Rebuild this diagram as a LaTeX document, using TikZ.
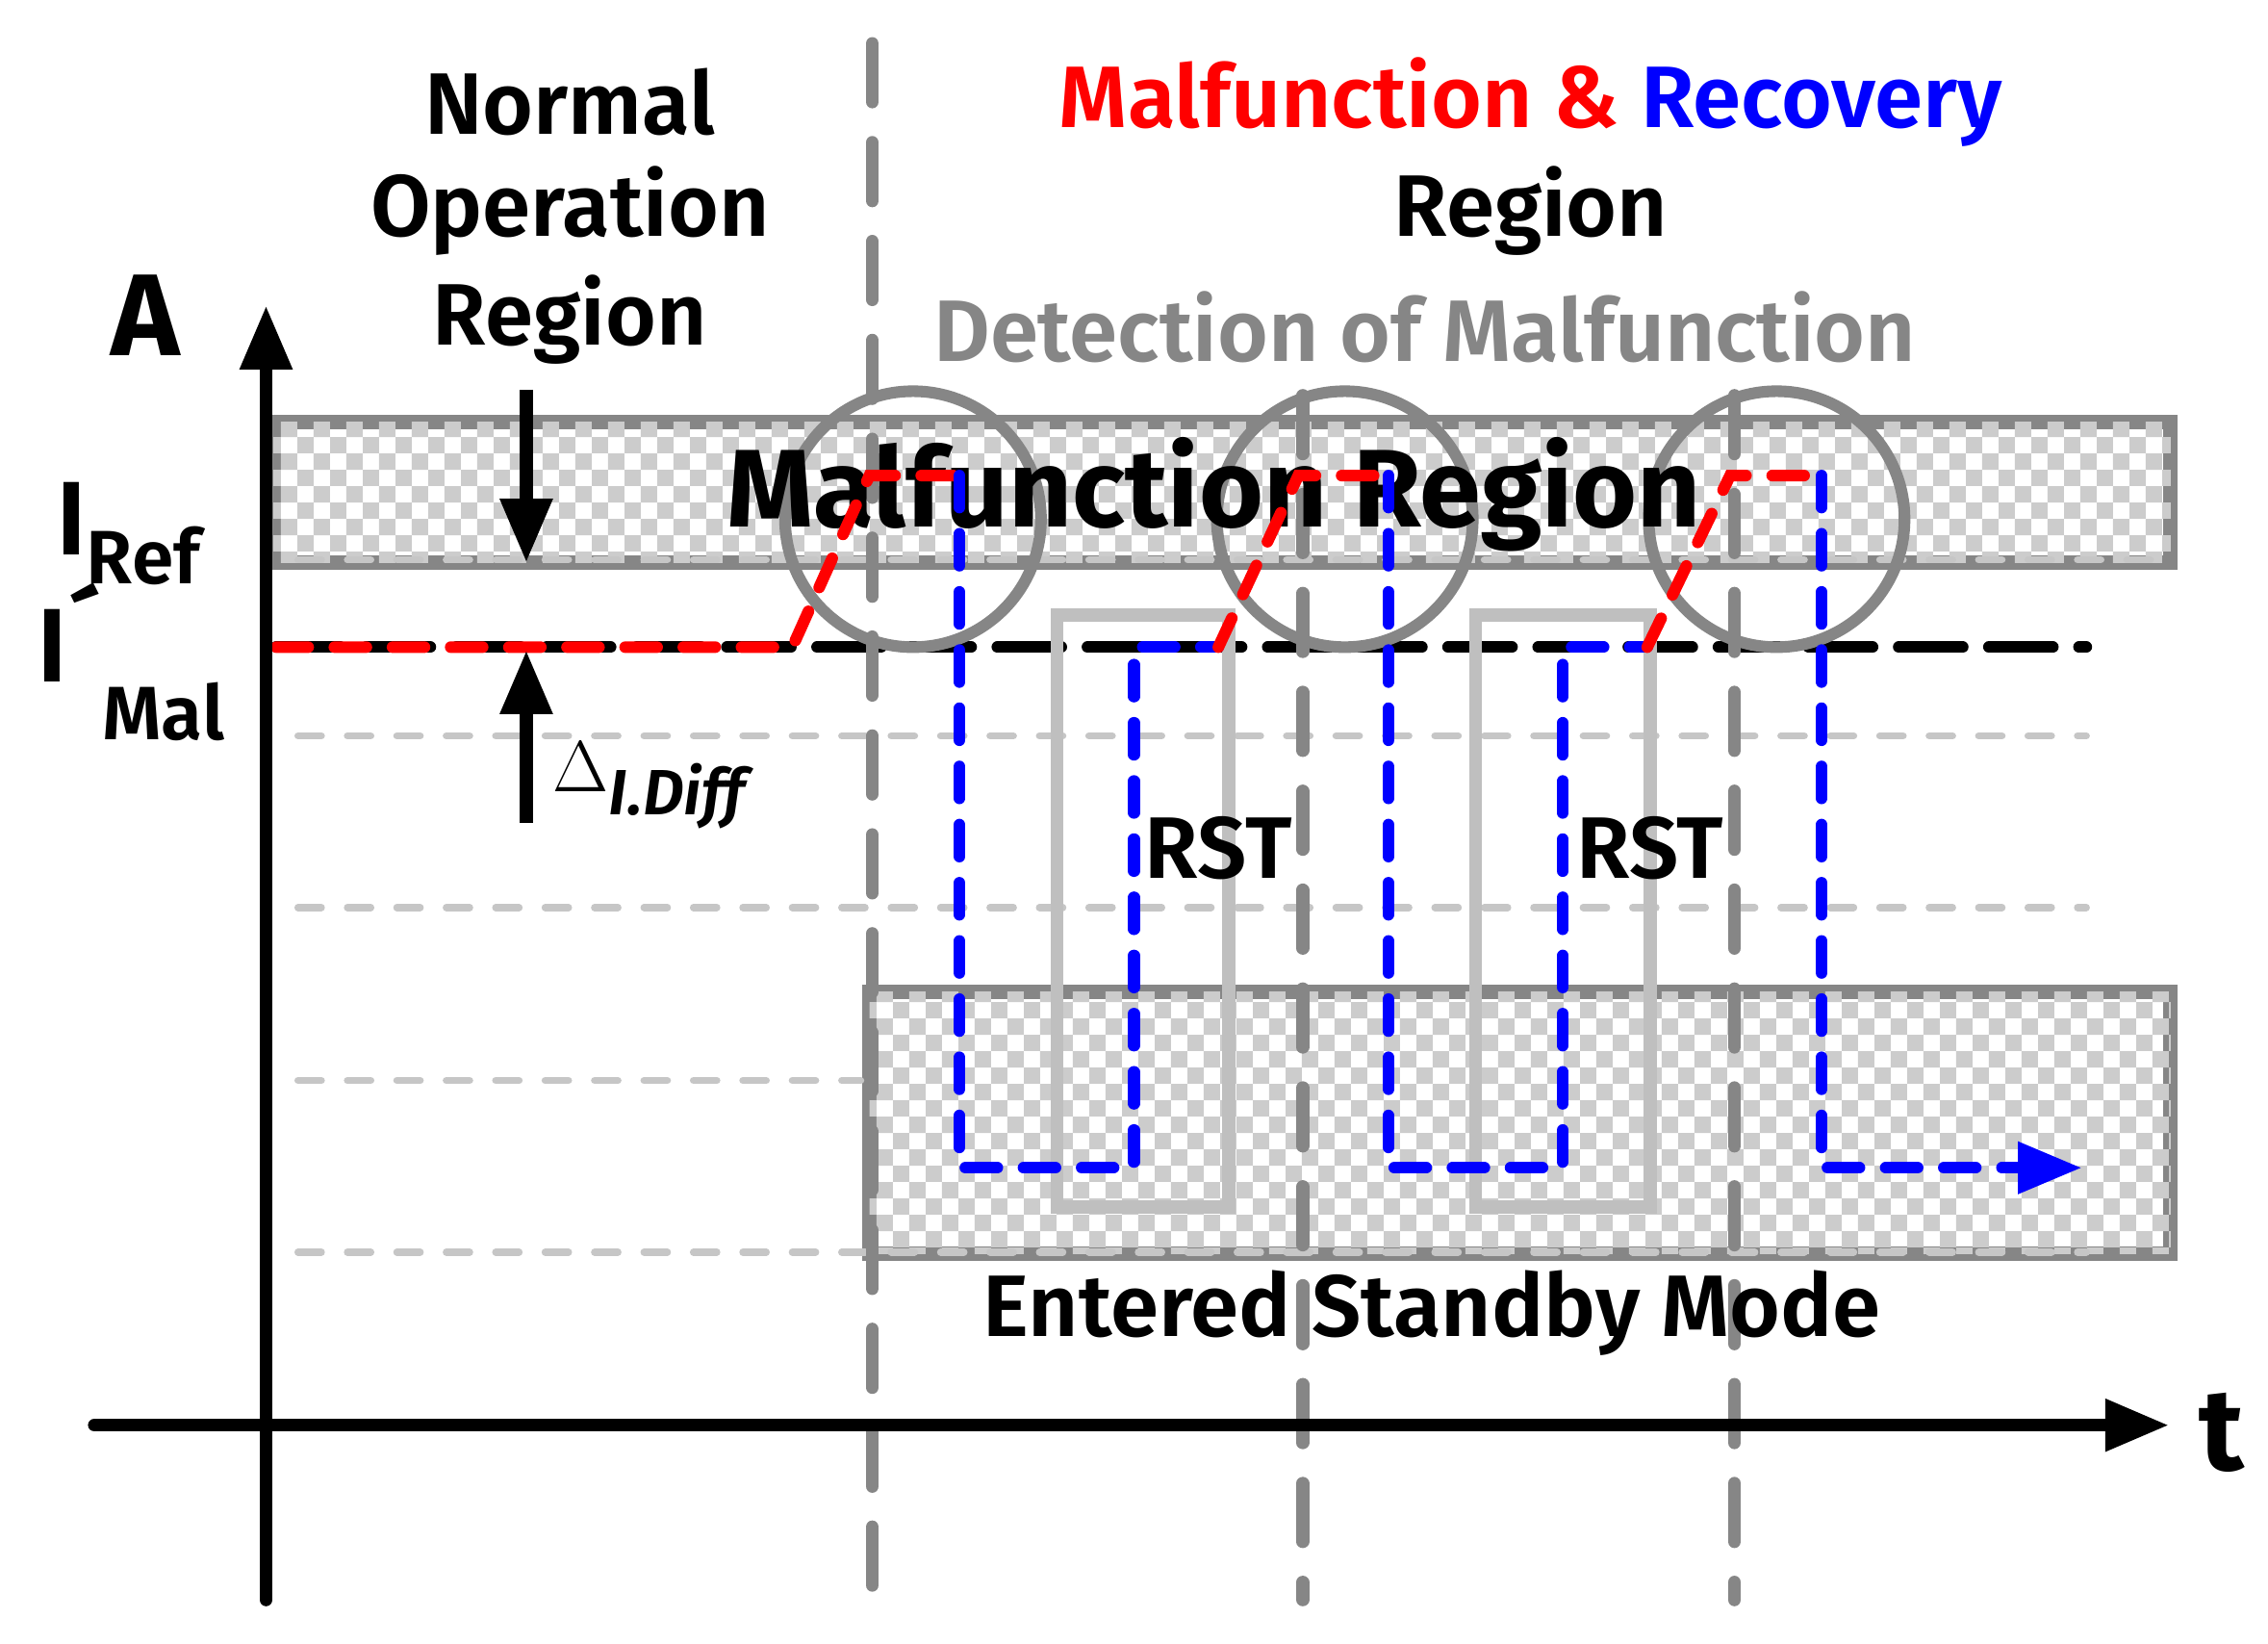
\documentclass[tikz,border=0pt]{standalone}
\usepackage{fontspec}
\setmainfont{Fira Sans}[BoldFont={Fira Sans SemiBold}]
\newfontfamily\heavy{Fira Sans Bold}
\usetikzlibrary{patterns,arrows.meta}
\begin{document}
\begin{tikzpicture}[x=0.5pt,y=-0.5pt,
  lbl/.style={font=\bfseries\fontsize{30}{36}\selectfont,inner sep=0},
  vdash/.style={gray!95,line width=4.5pt,dash pattern=on 20pt off 14pt,line cap=round},
  hgray/.style={gray!45,line width=2.5pt,dash pattern=on 8pt off 9pt,line cap=round},
  band/.style={draw=gray!95,line width=5pt,fill=white,postaction={pattern=checkerboard,pattern color=gray!40}},
  rsig/.style={red,line width=4pt,dash pattern=on 11pt off 9pt,line cap=round},
  bsig/.style={blue,line width=4pt,dash pattern=on 11pt off 9pt,line cap=round},
  ax/.style={line width=4.5pt,-{Triangle[length=22pt,width=17pt]}},
  circ/.style={gray!95,line width=4pt},
  rst/.style={gray!50,line width=4.5pt}]
\useasboundingbox (0,0) rectangle (1560,1130);
% bands
\draw[band] (188,290) rectangle (1493,387);
\draw[band] (598,682) rectangle (1493,862);
% gray horizontal dashed
\draw[hgray] (205,385) -- (1490,385);
\draw[hgray] (205,506) -- (1435,506);
\draw[hgray] (205,624) -- (1435,624);
\draw[hgray] (205,743) -- (592,743);
\draw[hgray] (205,861) -- (1435,861);
% black dashed
\draw[black,line width=4pt,dash pattern=on 22pt off 9pt,line cap=round] (190,445) -- (1435,445);
% RST boxes
\draw[rst] (727,423) rectangle (845,830);
\draw[rst] (1015,423) rectangle (1135,830);
% vertical dashed
\draw[vdash] (600,30) -- (600,1090);
\draw[vdash] (896,272) -- (896,1100);
\draw[vdash] (1193,272) -- (1193,1100);
% circles
\foreach \cx in {628,925,1222}
  \draw[circ] (\cx,357) circle (88);
% text Malfunction Region
\node[inner sep=0,font=\heavy\fontsize{38}{44}\selectfont] (mr) at (835,340) {Malfunction Region};
% signals
\draw[rsig] (190,445) -- (545,445) -- (598,327) -- (660,327);
\draw[bsig] (660,327) -- (660,803) -- (780,803) -- (780,445) -- (838,445);
\draw[rsig] (838,445) -- (893,327) -- (955,327);
\draw[bsig] (955,327) -- (955,803) -- (1075,803) -- (1075,445) -- (1133,445);
\draw[rsig] (1133,445) -- (1190,327) -- (1253,327);
\draw[bsig] (1253,327) -- (1253,803) -- (1380,803);
\draw[blue,line width=4pt,-{Triangle[length=22pt,width=17pt]}] (1380,803) -- (1432,803);
% axes
\coordinate (yo) at (183,1100); \coordinate (yt) at (183,210);
\coordinate (xo) at (65,980); \coordinate (xt) at (1492,980);
\draw[ax,line cap=round] (yo) -- (yt);
\draw[ax,line cap=round] (xo) -- (xt);
\node[lbl,font=\heavy\fontsize{40}{44}\selectfont] (A) at (100,217) {A};
\node[lbl,font=\heavy\fontsize{40}{44}\selectfont] (t) at (1528,985) {t};
% arrows
\coordinate (d1) at (362,268); \coordinate (d2) at (362,387);
\coordinate (u1) at (362,566); \coordinate (u2) at (362,447);
\draw[ax] (d1) -- (d2);
\draw[ax] (u1) -- (u2);
\node[inner sep=0,anchor=west] (delta) at (380,540) {\fontsize{30}{34}\selectfont$\Delta$\raisebox{-8pt}{\bfseries\itshape\fontsize{22}{26}\selectfont I.Diff}};
\node[inner sep=0] (iref) at (88,367) {\bfseries\fontsize{36}{40}\selectfont I\raisebox{-10pt}{\fontsize{26}{30}\selectfont Ref}};
\node[inner sep=0] (imal) at (90,455) {\bfseries\fontsize{36}{40}\selectfont I´\raisebox{-20pt}{\fontsize{26}{30}\selectfont Mal}};
% titles
\node[lbl] (nor) at (392,70) {Normal};
\node[lbl] (op) at (392,145) {Operation};
\node[lbl] (reg) at (392,220) {Region};
\node[lbl] (mal) at (1053,70) {\textcolor{red}{Malfunction \&} \textcolor{blue}{Recovery}};
\node[lbl] (reg2) at (1053,145) {Region};
\node[lbl,text=gray!95] (det) at (980,225) {Detection of Malfunction};
\node[lbl] (rst1) at (838,583) {RST};
\node[lbl] (rst2) at (1135,583) {RST};
\node[lbl] (std) at (985,903) {Entered Standby Mode};
\end{tikzpicture}
\end{document}
